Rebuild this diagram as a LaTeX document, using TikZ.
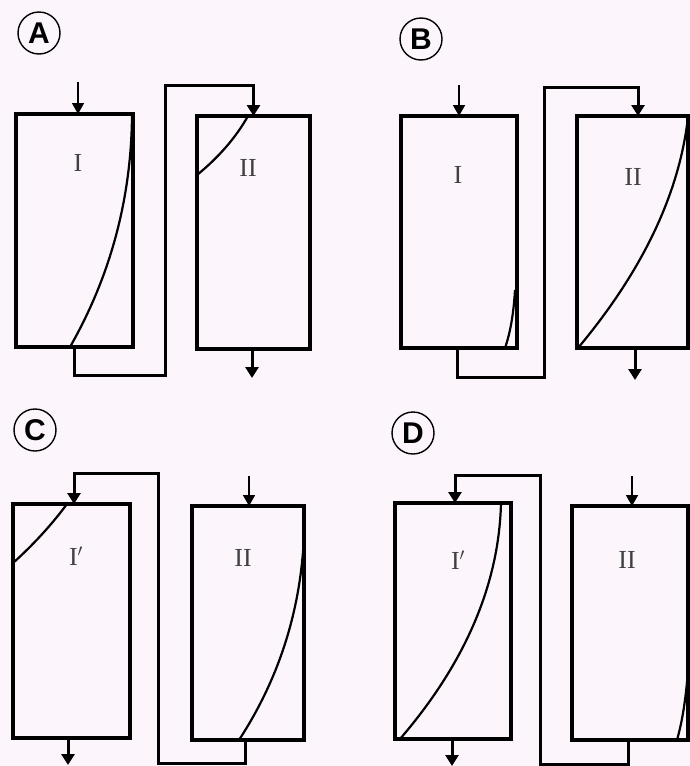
\documentclass[tikz,border=0pt]{standalone}
\usepackage{fontspec}
\newfontfamily\lettfont{Liberation Sans}
\newfontfamily\romfont{Liberation Serif}
\usetikzlibrary{arrows.meta,calc}
\definecolor{bg}{RGB}{252,246,252}
\newcommand{\qcurve}[3]{\draw[front] (#1) .. controls ($(#1)!0.6667!(#2)$) and ($(#3)!0.6667!(#2)$) .. (#3);}
\begin{document}
\begin{tikzpicture}[x=1pt,y=-1pt,
 box/.style={draw, line width=3.4pt, inner sep=0pt, outer sep=0pt, anchor=north west},
 flow/.style={line width=3pt, -{Triangle[length=11pt,width=13pt]}},
 feed/.style={line width=1.8pt, -{Triangle[length=11pt,width=12pt]}},
 front/.style={line width=2.2pt},
 lbl/.style={font=\romfont\fontsize{26}{28}\selectfont, text=black!75, inner sep=0pt},
 tag/.style={circle, draw, line width=1.4pt, minimum size=42pt, inner sep=0pt, font=\lettfont\bfseries\fontsize{30}{30}\selectfont}
]
\useasboundingbox[fill=bg] (0,0) rectangle (690,766);

% ---------- Panel A ----------
\node[tag] (tA) at (39,33) {A};
\node[box, minimum width=117pt, minimum height=233pt] (AI) at (16,114) {};
\node[box, minimum width=113pt, minimum height=233pt] (AII) at (197,116) {};
\node[lbl] (lAI) at (78,163) {I};
\node[lbl] (lAII) at (248,168) {II};
\qcurve{70,347}{131,240}{132,115}
\qcurve{248,116}{230,148}{197,175}
\draw[feed] ([xshift=3.5pt,yshift=32pt]AI.north) -- ([xshift=3.5pt]AI.north);
\draw[flow] ([xshift=-0.5pt]AI.south) -- ++(0,28) -| (165,85) -| (AII.north);
\draw[flow] ([xshift=-1.5pt]AII.south) -- ++(0,29);

% ---------- Panel B ----------
\node[tag] (tB) at (421,39) {B};
\node[box, minimum width=116pt, minimum height=232pt] (BI) at (401,116) {};
\node[box, minimum width=111pt, minimum height=232pt] (BII) at (577,116) {};
\node[lbl] (lBI) at (458,175) {I};
\node[lbl] (lBII) at (633,177) {II};
\qcurve{505,348}{513,325}{515,290}
\qcurve{578,348}{675,232}{688,117}
\draw[feed] ([yshift=31pt]BI.north) -- (BI.north);
\draw[flow] ([xshift=-2pt]BI.south) -- ++(0,29) -| (544,87) -| ([xshift=5.5pt]BII.north);
\draw[flow] ([xshift=2.5pt]BII.south) -- ++(0,32);

% ---------- Panel C ----------
\node[tag] (tC) at (35,430) {C};
\node[box, minimum width=117pt, minimum height=234pt] (CI) at (13,504) {};
\node[box, minimum width=112pt, minimum height=234pt] (CII) at (192,506) {};
\node[lbl] (lCI) at (76,556) {I$'$};
\node[lbl] (lCII) at (243,558) {II};
\qcurve{67,504}{44,535}{13,563}
\qcurve{239,740}{299,648}{304,536}
\draw[feed] ([xshift=1pt,yshift=30pt]CII.north) -- ([xshift=1pt]CII.north);
\draw[flow] ([xshift=-3pt]CII.south) -- ++(0,23) -| (158,473) -| ([xshift=2.5pt]CI.north);
\draw[flow] ([xshift=-3.5pt]CI.south) -- ++(0,27);

% ---------- Panel D ----------
\node[tag] (tD) at (413,433) {D};
\node[box, minimum width=116pt, minimum height=236pt] (DI) at (395,503) {};
\node[box, minimum width=116pt, minimum height=234pt] (DII) at (572,506) {};
\node[lbl] (lDI) at (458,560) {I$'$};
\node[lbl] (lDII) at (627,560) {II};
\qcurve{400,739}{498,625}{501,503}
\qcurve{677,740}{685,712}{688,670}
\draw[feed] ([xshift=2pt,yshift=30pt]DII.north) -- ([xshift=2pt]DII.north);
\draw[flow] ([xshift=-2pt]DII.south) -- ++(0,24) -| (540,475) -| ([xshift=2pt]DI.north);
\draw[flow] ([xshift=-1pt]DI.south) -- ++(0,27);
\end{tikzpicture}
\end{document}
